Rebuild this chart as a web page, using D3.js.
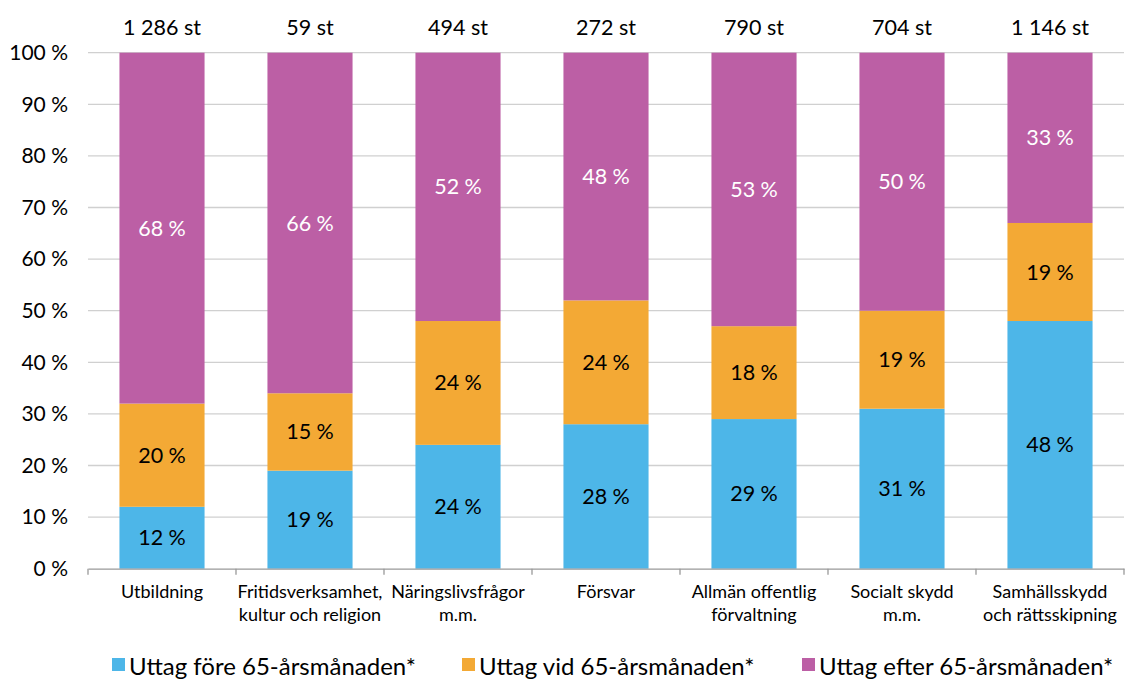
<!DOCTYPE html>
<html>
<head>
<meta charset="utf-8">
<script src="https://cdn.jsdelivr.net/npm/d3@7"></script>
<style>
	body { margin: 0; background: #fff; }
	svg { font-family: Lato, "Noto Sans", sans-serif; }
</style>
</head>
<body>
<div class="chart"></div>
<script>
const categories = [
	["Utbildning"],
	["Fritidsverksamhet,", "kultur och religion"],
	["Näringslivsfrågor", "m.m."],
	["Försvar"],
	["Allmän offentlig", "förvaltning"],
	["Socialt skydd", "m.m."],
	["Samhällsskydd", "och rättsskipning"]
];
const counts = ["1 286 st", "59 st", "494 st", "272 st", "790 st", "704 st", "1 146 st"];
const fore = [12, 19, 24, 28, 29, 31, 48];
const vid = [20, 15, 24, 24, 18, 19, 19];
const efter = [68, 66, 52, 48, 53, 50, 33];
const seriesNames = ["Uttag före 65-årsmånaden*", "Uttag vid 65-årsmånaden*", "Uttag efter 65-årsmånaden*"];
const yTicks = [0, 10, 20, 30, 40, 50, 60, 70, 80, 90, 100];

const colors = ["#4db6e8", "#f3a935", "#bc5fa5"];
const labelColors = ["#000", "#000", "#fff"];

const width = 1128;
const height = 679;
const plotLeft = 88, plotRight = 1124, plotTop = 52.7, plotBottom = 568.7;

const svg = d3.select('.chart')
	.append('svg')
	.attr('width', width)
	.attr('height', height);

const idx = categories.map((d, i) => i);
const x = d3.scaleBand().domain(idx).range([plotLeft, plotRight]).paddingInner(0.425).paddingOuter(0.2125);
const y = d3.scaleLinear().domain([0, 100]).range([plotBottom, plotTop]);

// gridlines
svg.selectAll(".grid")
	.data(yTicks.filter(d => d > 0))
	.enter()
	.append("line")
	.attr("x1", plotLeft)
	.attr("x2", plotRight)
	.attr("y1", d => y(d))
	.attr("y2", d => y(d))
	.attr("stroke", "#d0d0d0")
	.attr("stroke-width", 1.3);

// y labels
svg.selectAll(".ylab")
	.data(yTicks)
	.enter()
	.append("text")
	.text(d => d + " %")
	.attr("x", 68)
	.attr("y", d => y(d))
	.attr("dy", "0.35em")
	.attr("text-anchor", "end")
	.attr("font-size", 21)
	.attr("fill", "#000");

// stacked data
const table = idx.map(i => ({i: i, s0: fore[i], s1: vid[i], s2: efter[i]}));
const stack = d3.stack().keys(["s0", "s1", "s2"])(table);

const layers = svg.selectAll(".layer")
	.data(stack)
	.enter()
	.append("g")
	.attr("fill", (d, k) => colors[k]);

layers.selectAll("rect")
	.data(d => d)
	.enter()
	.append("rect")
	.attr("x", d => x(d.data.i))
	.attr("width", x.bandwidth())
	.attr("y", d => y(d[1]))
	.attr("height", d => y(d[0]) - y(d[1]));

stack.forEach(function(layer, k) {
	svg.selectAll(".lab" + k)
		.data(layer)
		.enter()
		.append("text")
		.text(d => (d[1] - d[0]) + " %")
		.attr("x", d => x(d.data.i) + x.bandwidth() / 2)
		.attr("y", d => y((d[0] + d[1]) / 2))
		.attr("dy", "0.35em")
		.attr("text-anchor", "middle")
		.attr("font-size", 21.5)
		.attr("fill", labelColors[k]);
});

// x axis
const xAxis = d3.axisBottom(x).tickSize(0).tickFormat("");
const axisG = svg.append("g")
	.attr("transform", "translate(0," + plotBottom + ")")
	.call(xAxis);
axisG.select(".domain").attr("stroke", "#999").attr("stroke-width", 1.3);
const step = x.step();
axisG.selectAll(".sep")
	.data(d3.range(categories.length + 1))
	.enter()
	.append("line")
	.attr("x1", d => plotLeft + d * step)
	.attr("x2", d => plotLeft + d * step)
	.attr("y1", 0)
	.attr("y2", 6)
	.attr("stroke", "#999")
	.attr("stroke-width", 1.3);

// category labels
const catG = svg.selectAll(".cat")
	.data(categories)
	.enter()
	.append("text")
	.attr("text-anchor", "middle")
	.attr("font-size", 18)
	.attr("fill", "#000");
catG.selectAll("tspan")
	.data((d, i) => d.map(t => ({t: t, i: i})))
	.enter()
	.append("tspan")
	.attr("x", d => x(d.i) + x.bandwidth() / 2)
	.attr("y", (d, j) => 598 + j * 23)
	.text(d => d.t);

// counts on top
svg.selectAll(".count")
	.data(counts)
	.enter()
	.append("text")
	.text(d => d)
	.attr("x", (d, i) => x(i) + x.bandwidth() / 2)
	.attr("y", 35)
	.attr("text-anchor", "middle")
	.attr("font-size", 21.5)
	.attr("fill", "#000");

// legend
const legX = [112, 462, 802];
const leg = svg.selectAll(".leg")
	.data(seriesNames)
	.enter()
	.append("g")
	.attr("transform", (d, i) => "translate(" + legX[i] + ",0)");
leg.append("rect")
	.attr("x", 0)
	.attr("y", 658)
	.attr("width", 13)
	.attr("height", 13)
	.attr("fill", (d, i) => colors[i]);
leg.append("text")
	.text(d => d)
	.attr("x", 17)
	.attr("y", 675)
	.attr("font-size", 24)
	.attr("fill", "#000");
</script>
</body>
</html>
